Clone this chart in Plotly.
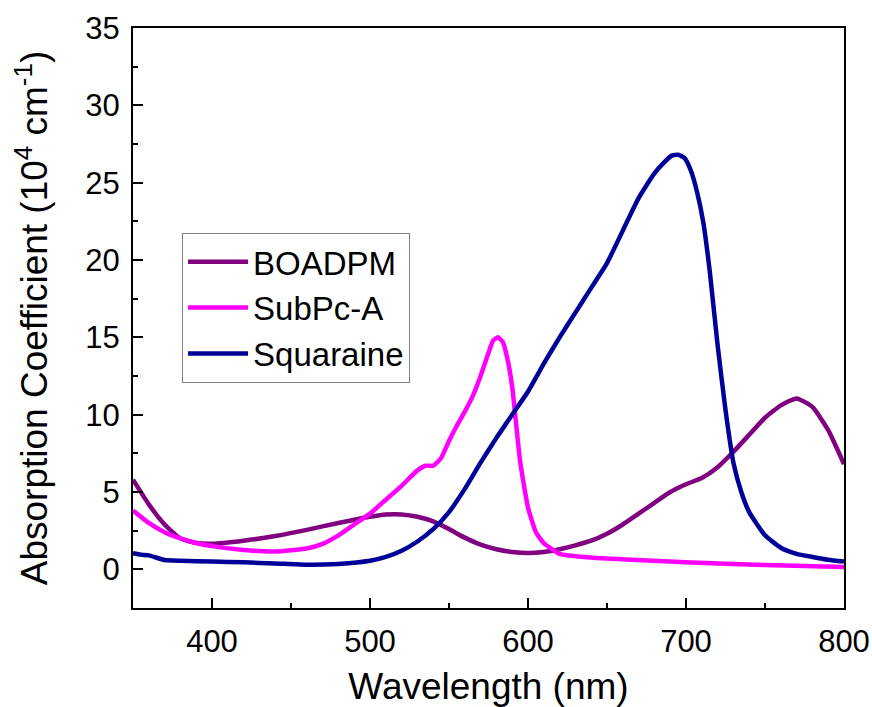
import plotly.graph_objects as go

# Wavelength (nm) and absorption coefficient (10^4 cm^-1)
boadpm_wl = [350, 360, 370, 380, 390, 400, 420, 440, 460, 480, 500, 510, 520, 530, 540, 550,
             560, 570, 580, 590, 600, 610, 620, 630, 640, 650, 660, 670, 680, 690, 700, 710,
             720, 730, 740, 750, 760, 770, 780, 790, 800]
boadpm_abs = [5.8, 4.2, 2.9, 2.0, 1.7, 1.65, 1.85, 2.15, 2.55, 3.0, 3.4, 3.55, 3.55, 3.4, 3.1, 2.6,
              2.05, 1.6, 1.3, 1.12, 1.05, 1.12, 1.3, 1.55, 1.85, 2.3, 2.9, 3.6, 4.3, 5.0, 5.5, 5.9,
              6.6, 7.6, 8.7, 9.8, 10.6, 11.05, 10.5, 9.0, 6.8]

subpc_wl = [350, 360, 370, 380, 390, 400, 420, 440, 460, 470, 480, 490, 500, 510, 520, 530, 535,
            540, 545, 550, 555, 560, 565, 570, 575, 578, 581, 584, 587, 590, 595, 600, 605, 610, 620, 630,
            650, 700, 750, 800]
subpc_abs = [3.8, 3.0, 2.4, 2.0, 1.7, 1.5, 1.25, 1.15, 1.35, 1.65, 2.2, 2.9, 3.6, 4.5, 5.4, 6.4, 6.7,
             6.7, 7.2, 8.3, 9.3, 10.2, 11.2, 12.5, 14.0, 14.8, 15.0, 14.7, 13.6, 11.8, 7.0, 4.0, 2.4, 1.7, 1.0, 0.85,
             0.7, 0.45, 0.28, 0.15]

squar_wl = [350, 355, 360, 365, 370, 380, 400, 420, 440, 460, 480, 500, 510, 520, 530, 540, 550,
            560, 570, 580, 590, 600, 610, 620, 630, 640, 650, 660, 670, 680, 686, 691, 695, 699, 703,
            707, 711, 715, 720, 725, 730, 735, 740, 750, 760, 770, 780, 790, 800]
squar_abs = [1.05, 0.95, 0.9, 0.75, 0.6, 0.55, 0.5, 0.45, 0.38, 0.3, 0.35, 0.55, 0.8, 1.2, 1.8, 2.6, 3.7,
             5.2, 6.9, 8.5, 10.0, 11.5, 13.3, 15.0, 16.6, 18.2, 19.8, 21.9, 24.0, 25.6, 26.3, 26.75, 26.8, 26.6, 25.8,
             24.4, 22.4, 19.3, 14.5, 10.3, 6.9, 5.0, 3.7, 2.2, 1.4, 1.0, 0.8, 0.62, 0.5]

series = [
    ("BOADPM", boadpm_wl, boadpm_abs, "#800080"),
    ("SubPc-A", subpc_wl, subpc_abs, "#FF00FF"),
    ("Squaraine", squar_wl, squar_abs, "#000099"),
]

FONT = "Liberation Sans, Arial, sans-serif"

fig = go.Figure()
for name, x, y, c in series:
    fig.add_trace(go.Scatter(x=x, y=y, name=name, mode="lines",
                             line=dict(color=c, width=4.5, shape="spline", smoothing=0.5)))

axis_common = dict(showline=True, linewidth=2, linecolor="black", mirror=True,
                   ticks="inside", ticklen=10, tickwidth=1.5, tickcolor="black",
                   showgrid=False, zeroline=False, ticklabelstandoff=5,
                   tickfont=dict(family=FONT, size=31, color="black"))

fig.update_xaxes(range=[350, 800], tick0=400, dtick=100,
                 minor=dict(ticks="inside", ticklen=5, tickwidth=1.5, tickcolor="black", dtick=50, tick0=350),
                 title=dict(text="Wavelength (nm)", font=dict(family=FONT, size=37, color="black"), standoff=16),
                 **axis_common)
fig.update_yaxes(range=[-2.5, 35], tick0=0, dtick=5,
                 minor=dict(ticks="inside", ticklen=5, tickwidth=1.5, tickcolor="black", dtick=2.5, tick0=0),
                 title=dict(text="Absorption Coefficient (10<sup>4</sup> cm<sup>-1</sup>)",
                            font=dict(family=FONT, size=37, color="black"), standoff=26),
                 **axis_common)

fig.update_layout(
    width=872, height=707,
    margin=dict(l=133, r=28, t=28, b=99, autoexpand=False),
    paper_bgcolor="white", plot_bgcolor="white",
    font=dict(family=FONT, color="black"),
    legend=dict(x=0.069, y=0.647, xanchor="left", yanchor="top",
                bordercolor="#808080", borderwidth=1, bgcolor="white",
                font=dict(family=FONT, size=33, color="black"),
                tracegroupgap=0, itemwidth=60),
)

fig.write_html("out.html")
